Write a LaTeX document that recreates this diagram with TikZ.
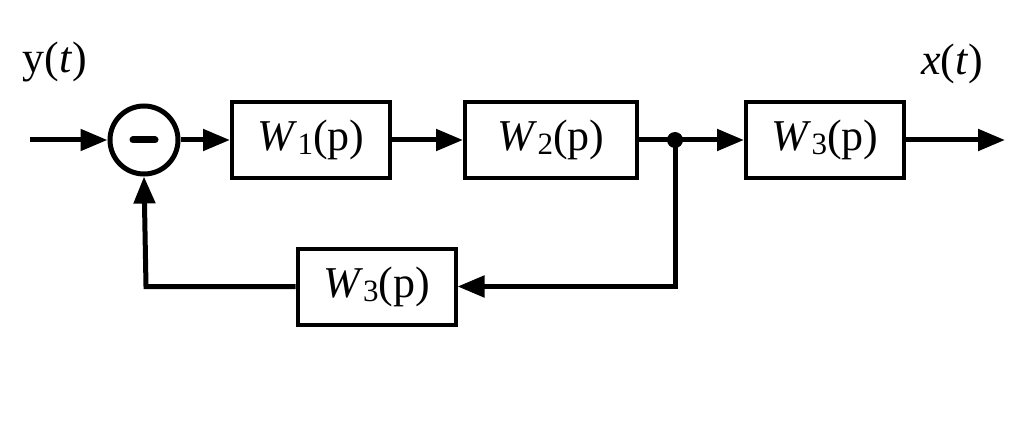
\documentclass[tikz,border=0pt]{standalone}
\usepackage{fontspec}
\setmainfont{Liberation Serif}
\usetikzlibrary{arrows.meta}
\newcommand{\Wp}[1]{\textit{W}\raisebox{-0.1em}{\fontsize{31}{31}\selectfont #1}(p)}
\begin{document}
\begin{tikzpicture}[x=1pt,y=-1pt,
  blk/.style={draw,line width=4pt,minimum width=158pt,minimum height=76pt,inner sep=0pt,font=\fontsize{44}{44}\selectfont},
  conn/.style={line width=5pt,-{Triangle[length=27pt,width=21pt]}},
  wire/.style={line width=5pt}]
\useasboundingbox (0,0) rectangle (1024,446);
\node[draw,circle,line width=5pt,minimum size=68pt,inner sep=0pt] (sum) at (144,140) {};
\draw[line width=7pt,line cap=round] (133,140) -- (155,140);
\node[blk] (w1) at (311,140) {\Wp{1}};
\node[blk,minimum width=172pt] (w2) at (551,140) {\Wp{2}};
\node[blk] (w3) at (825,140) {\Wp{3}};
\node[blk] (w4) at (376.5,286.5) {\Wp{3}};
\coordinate (in) at (30,140);
\coordinate (out) at (1005,140);
\fill (675,140) circle (8pt) coordinate (br);
\coordinate (brd) at (675,286.5);
\coordinate (fbl) at (146,286.5);
\node[font=\fontsize{44}{44}\selectfont] (ylab) at (55,62) {y(\textit{t})};
\node[font=\fontsize{44}{44}\selectfont] (xlab) at (952,64) {\textit{x}(\textit{t})};
\draw[conn] (in) -- (sum.west);
\draw[conn] (sum.east) -- (w1.west);
\draw[conn] (w1.east) -- (w2.west);
\draw[wire] (w2.east) -- (br);
\draw[conn] (br) -- (w3.west);
\draw[conn] (w3.east) -- (out);
\draw[conn] (br) -- (brd) -- (w4.east);
\draw[conn] (w4.west) -- (fbl) -- (sum.south);
\end{tikzpicture}
\end{document}
